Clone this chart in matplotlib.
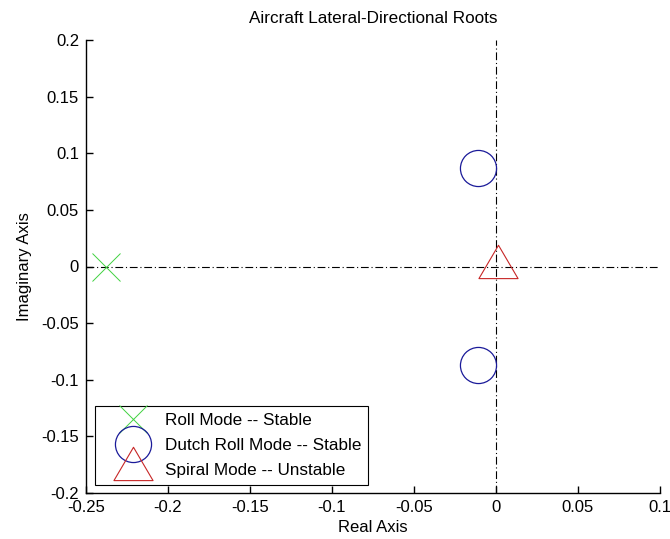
import matplotlib
matplotlib.use('Agg')
import matplotlib.pyplot as plt
from matplotlib.lines import Line2D
from matplotlib.path import Path

# roots of the lateral-directional characteristic equation
roll_re = [-0.238]
roll_im = [0.0]
dutch_re = [-0.011, -0.011]
dutch_im = [0.087, -0.087]
spiral_re = [0.0012]
spiral_im = [0.0]

labels = ['Roll Mode -- Stable', 'Dutch Roll Mode -- Stable', 'Spiral Mode -- Unstable']

xticks = [-0.25, -0.2, -0.15, -0.1, -0.05, 0, 0.05, 0.1]
xticklabels = ['-0.25', '-0.2', '-0.15', '-0.1', '-0.05', '0', '0.05', '0.1']
yticks = [-0.2, -0.15, -0.1, -0.05, 0, 0.05, 0.1, 0.15, 0.2]
yticklabels = ['-0.2', '-0.15', '-0.1', '-0.05', '0', '0.05', '0.1', '0.15', '0.2']

plt.rcParams['font.family'] = ['Liberation Sans', 'DejaVu Sans']
plt.rcParams['font.size'] = 12

# matlab style triangle, centred on its centroid
TRI = Path([(0, 2), (-1.76, -1), (1.76, -1), (0, 2)],
           [Path.MOVETO, Path.LINETO, Path.LINETO, Path.CLOSEPOLY])

GREEN = (0.25, 0.82, 0.25)
BLUE = (0.1, 0.1, 0.6)
RED = (0.78, 0.15, 0.15)


def main():
    fig = plt.figure(figsize=(6.7, 5.39), dpi=100)
    ax = fig.add_axes([86 / 670, 1 - 493 / 539, 574 / 670, 453 / 539])

    dash = (7, 2.5, 1, 2.5)
    ax.axhline(0, color='k', lw=0.8, dashes=dash)
    ax.axvline(0, color='k', lw=0.8, dashes=dash)

    ax.plot(roll_re, roll_im, ls='none', marker='x', ms=20, mew=0.7, color=GREEN)
    ax.plot(dutch_re, dutch_im, ls='none', marker='o', ms=26, mew=0.9,
            mfc='none', color=BLUE)
    ax.plot(spiral_re, spiral_im, ls='none', marker=TRI, ms=32, mew=0.8,
            mfc='none', color=RED)

    handles = [
        Line2D([], [], ls='none', marker='x', ms=20, mew=0.7, color=GREEN),
        Line2D([], [], ls='none', marker='o', ms=26, mew=0.9, mfc='none', color=BLUE),
        Line2D([], [], ls='none', marker=TRI, ms=32, mew=0.8, mfc='none', color=RED),
    ]
    leg = ax.legend(handles, labels, loc='lower left',
                    bbox_to_anchor=(0.0157, 0.0177), borderaxespad=0,
                    fancybox=False, framealpha=1, edgecolor='k',
                    handlelength=3.6, handletextpad=0.1, labelspacing=0.6,
                    borderpad=0.4, fontsize=12.3)
    leg.get_frame().set_linewidth(0.8)

    ax.set_xlim(-0.25, 0.1)
    ax.set_ylim(-0.2, 0.2)
    ax.set_xticks(xticks)
    ax.set_xticklabels(xticklabels)
    ax.set_yticks(yticks)
    ax.set_yticklabels(yticklabels)
    ax.tick_params(direction='in', length=5, width=1, pad=5)

    ax.spines['top'].set_visible(False)
    ax.spines['right'].set_visible(False)
    for s in ('left', 'bottom'):
        ax.spines[s].set_linewidth(1)

    ax.set_title('Aircraft Lateral-Directional Roots', fontsize=12.3, pad=12)
    ax.set_xlabel('Real Axis', labelpad=4)
    ax.set_ylabel('Imaginary Axis', labelpad=7)

    fig.savefig('out.png', dpi=100)


if __name__ == '__main__':
    main()
